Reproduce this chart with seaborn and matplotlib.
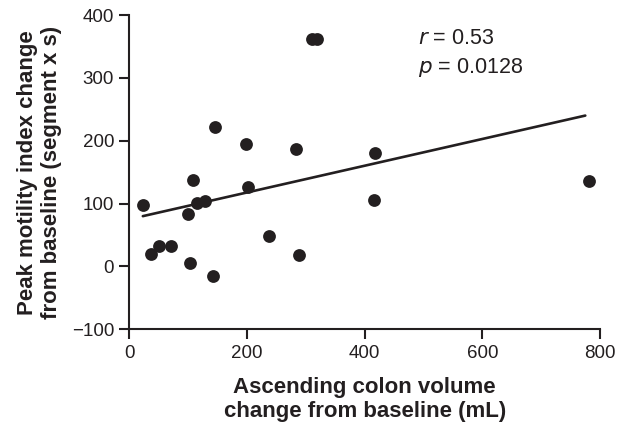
import matplotlib
matplotlib.use("Agg")
import matplotlib.pyplot as plt
import seaborn as sns
import pandas as pd

# data
volume_change = [23, 37, 51, 71, 100, 103, 109, 115, 129, 143, 202, 238, 289,
                 416, 417, 146, 199, 283, 311, 319, 782]
motility_change = [97, 20, 32, 32, 83, 5, 138, 101, 104, -16, 126, 48, 18,
                   105, 180, 222, 195, 187, 362, 362, 136]
fit_x = [23, 775]
fit_y = [80, 240]
x_ticks = [0, 200, 400, 600, 800]
y_ticks = [-100, 0, 100, 200, 300, 400]
r_text = "0.53"
p_text = "0.0128"

sns.set_style("ticks")
plt.rcParams['font.family'] = ['Liberation Sans', 'DejaVu Sans']

ink = "#231f20"
df = pd.DataFrame({"x": volume_change, "y": motility_change})
fit = pd.DataFrame({"x": fit_x, "y": fit_y})

fig = plt.figure(figsize=(6.28, 4.23), dpi=100)
ax = fig.add_axes([129.3 / 628, 1 - 329.3 / 423, (600 - 129.3) / 628, (329.3 - 15) / 423])

sns.scatterplot(data=df, x="x", y="y", ax=ax, s=85, color=ink, edgecolor=ink,
                linewidth=0, zorder=3)
sns.lineplot(data=fit, x="x", y="y", ax=ax, color=ink, linewidth=1.9, zorder=2)

ax.set_xlim(0, 800)
ax.set_ylim(-100, 400)
ax.set_xticks(x_ticks)
ax.set_yticks(y_ticks)
ax.set_yticklabels([str(v).replace("-", "\u2212") for v in y_ticks])
ax.tick_params(axis="both", which="major", length=7, width=1.5, color=ink,
               labelcolor=ink, labelsize=13.5, pad=4)
for side in ["left", "bottom"]:
    ax.spines[side].set_linewidth(1.5)
    ax.spines[side].set_color(ink)
sns.despine(ax=ax)

ax.set_xlabel("Ascending colon volume\nchange from baseline (mL)", fontsize=16,
              fontweight="bold", color=ink, linespacing=1.2, labelpad=11)
ax.set_ylabel("Peak motility index change\nfrom baseline (segment x s)", fontsize=16,
              fontweight="bold", color=ink, linespacing=1.2, labelpad=7)

ax.text(490, 354, "$\\it{r}$ = " + r_text, fontsize=15.5, color=ink, va="baseline",
        ha="left")
ax.text(490, 308, "$\\it{p}$ = " + p_text, fontsize=15.5, color=ink, va="baseline",
        ha="left")

fig.savefig("out.png", dpi=100)
